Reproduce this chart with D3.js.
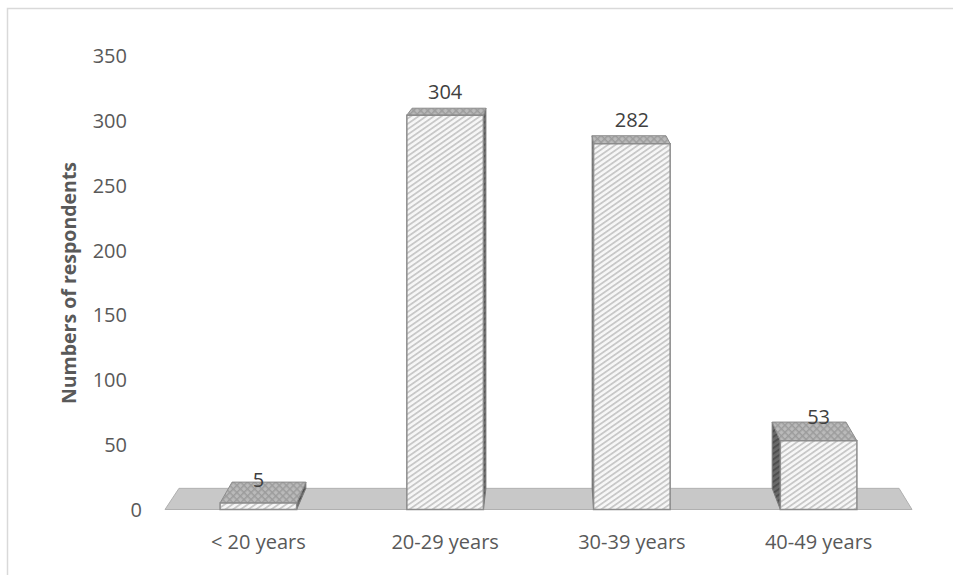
<!DOCTYPE html>
<html>
<head>
<meta charset="utf-8">
<script src="https://cdn.jsdelivr.net/npm/d3@7/dist/d3.min.js"></script>
<style>
  html, body { margin: 0; padding: 0; background: #fff; }
  svg { display: block; }
  text { font-family: "Open Sans", "Noto Sans", sans-serif; }
</style>
</head>
<body>
<svg id="chart" width="953" height="575"></svg>
<script>
// Respondents by age group
const categories = ["< 20 years", "20-29 years", "30-39 years", "40-49 years"];
const respondents = [5, 304, 282, 53];
const yTicks = [0, 50, 100, 150, 200, 250, 300, 350];
const yTitle = "Numbers of respondents";

const W = 953, H = 575;
const FONT = 20;
const svg = d3.select("#chart");

// Front plane of the 3D plot area
const plot = { left: 165, right: 912, top: 55.5, bottom: 509.5 };

const x = d3.scaleBand()
  .domain(categories)
  .range([plot.left, plot.right])
  .paddingInner(0.59)
  .paddingOuter(0.295);

const y = d3.scaleLinear()
  .domain([0, 350])
  .range([plot.bottom, plot.top]);

// Perspective: points on the back plane shrink toward a vanishing point
const vp = { x: 553, y: -78 };
const depthScale = 0.964;
const back = ([px, py]) => [vp.x + (px - vp.x) * depthScale, vp.y + (py - vp.y) * depthScale];
const poly = pts => "M" + pts.map(p => p.join(",")).join("L") + "Z";

// Patterns
const defs = svg.append("defs");
const hatch = defs.append("pattern")
  .attr("id", "hatchFront").attr("patternUnits", "userSpaceOnUse")
  .attr("width", 4.4).attr("height", 4.4)
  .attr("patternTransform", "rotate(55)");
hatch.append("rect").attr("width", 4.4).attr("height", 4.4).attr("fill", "#f7f7f7");
hatch.append("rect").attr("width", 1.8).attr("height", 4.4).attr("fill", "#c8c8c8");

const cross = defs.append("pattern")
  .attr("id", "hatchTop").attr("patternUnits", "userSpaceOnUse")
  .attr("width", 5).attr("height", 5)
  .attr("patternTransform", "rotate(45)");
cross.append("rect").attr("width", 5).attr("height", 5).attr("fill", "#bababa");
cross.append("rect").attr("width", 1.5).attr("height", 5).attr("fill", "#9c9c9c");
cross.append("rect").attr("width", 5).attr("height", 1.5).attr("fill", "#9c9c9c");

const sideHatch = defs.append("pattern")
  .attr("id", "hatchSide").attr("patternUnits", "userSpaceOnUse")
  .attr("width", 4.6).attr("height", 4.6)
  .attr("patternTransform", "rotate(55)");
sideHatch.append("rect").attr("width", 4.6).attr("height", 4.6).attr("fill", "#6a6a6a");
sideHatch.append("rect").attr("width", 2).attr("height", 4.6).attr("fill", "#4e4e4e");

// Chart border (left and top edges)
svg.append("path")
  .attr("d", `M7.5,${H}V8.5H${W}`)
  .attr("fill", "none").attr("stroke", "#d9d9d9").attr("stroke-width", 1.5);

// Floor
const fl = [plot.left, y(0)], fr = [plot.right, y(0)];
svg.append("path")
  .attr("d", poly([fl, fr, back(fr), back(fl)]))
  .attr("fill", "#c8c8c8").attr("stroke", "#b0b0b0").attr("stroke-width", 1);

// Bars
const bars = svg.append("g");
categories.forEach((c, i) => {
  const v = respondents[i];
  const x0 = x(c), x1 = x(c) + x.bandwidth();
  const yt = y(v), yb = y(0);
  const FTL = [x0, yt], FTR = [x1, yt], FBL = [x0, yb], FBR = [x1, yb];
  const g = bars.append("g");
  // visible side face
  if (x1 < vp.x) {
    g.append("path").attr("d", poly([FTR, back(FTR), back(FBR), FBR]))
      .attr("fill", "url(#hatchSide)").attr("stroke", "#7a7a7a").attr("stroke-width", 1);
  }
  if (x0 > vp.x) {
    g.append("path").attr("d", poly([FTL, back(FTL), back(FBL), FBL]))
      .attr("fill", "url(#hatchSide)").attr("stroke", "#7a7a7a").attr("stroke-width", 1);
  }
  // top face
  g.append("path").attr("d", poly([FTL, FTR, back(FTR), back(FTL)]))
    .attr("fill", "url(#hatchTop)").attr("stroke", "#8c8c8c").attr("stroke-width", 1);
  // front face
  g.append("path").attr("d", poly([FTL, FTR, FBR, FBL]))
    .attr("fill", "url(#hatchFront)").attr("stroke", "#8c8c8c").attr("stroke-width", 1.5);
});

// Value labels
svg.append("g").selectAll("text")
  .data(categories)
  .join("text")
  .attr("x", c => x(c) + x.bandwidth() / 2)
  .attr("y", (c, i) => y(respondents[i]) - 24)
  .attr("text-anchor", "middle")
  .attr("dominant-baseline", "central")
  .attr("font-size", FONT)
  .attr("fill", "#404040")
  .text((c, i) => respondents[i]);

// Y tick labels
svg.append("g").selectAll("text")
  .data(yTicks)
  .join("text")
  .attr("x", d => d === 0 ? 142 : 127)
  .attr("y", d => y(d))
  .attr("text-anchor", "end")
  .attr("dominant-baseline", "central")
  .attr("font-size", FONT)
  .attr("fill", "#595959")
  .text(d => d);

// Category labels
svg.append("g").selectAll("text")
  .data(categories)
  .join("text")
  .attr("x", c => x(c) + x.bandwidth() / 2)
  .attr("y", 541)
  .attr("text-anchor", "middle")
  .attr("dominant-baseline", "central")
  .attr("font-size", FONT)
  .attr("fill", "#595959")
  .text(c => c);

// Y axis title
svg.append("text")
  .attr("transform", "translate(68,283) rotate(-90)")
  .attr("text-anchor", "middle")
  .attr("dominant-baseline", "central")
  .attr("font-size", 19.5)
  .attr("font-weight", "bold")
  .attr("fill", "#595959")
  .text(yTitle);
</script>
</body>
</html>
